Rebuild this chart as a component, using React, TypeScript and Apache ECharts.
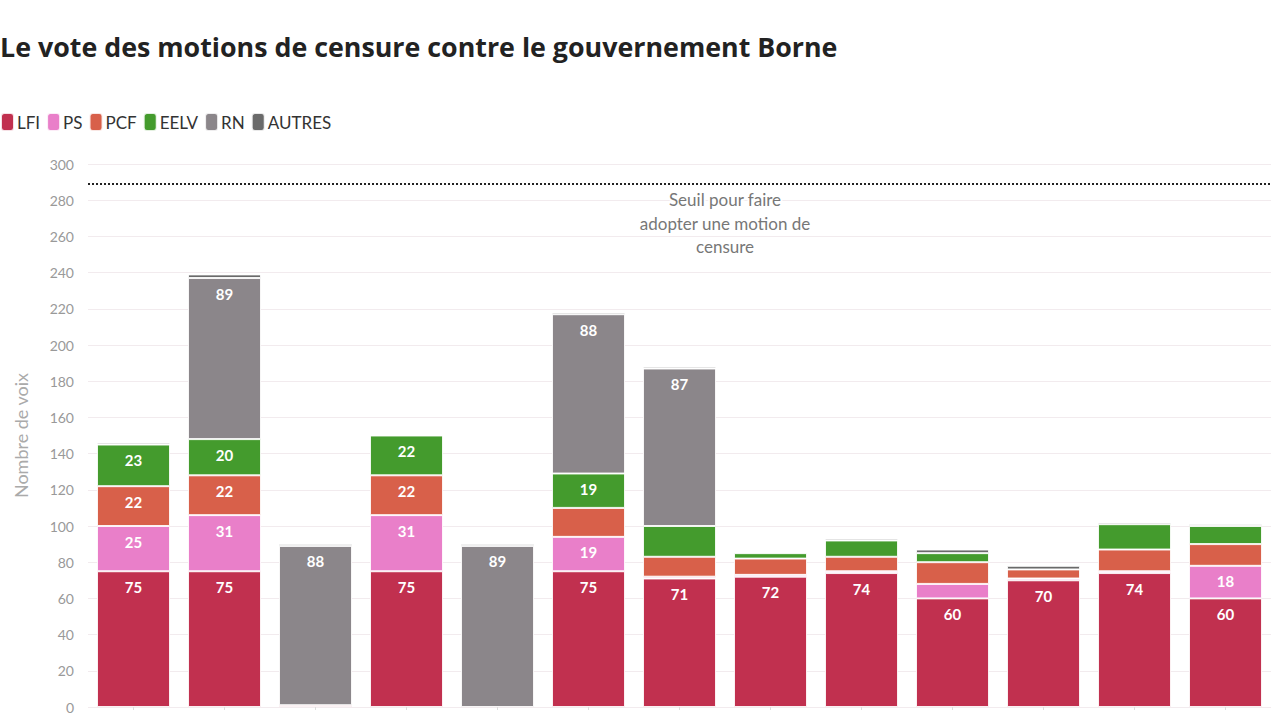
import React, { useEffect, useRef } from "react";
import * as echarts from "echarts";

const categories = ["1", "2", "3", "4", "5", "6", "7", "8", "9", "10", "11", "12", "13"];
const lfi = [75, 75, 1, 75, null, 75, 71, 72, 74, 60, 70, 74, 60];
const ps = [25, 31, null, 31, null, 19, 1, 1, 1, 8, 1, 1, 18];
const pcf = [22, 22, null, 22, null, 16, 11, 9, 8, 12, 5, 12, 12];
const eelv = [23, 20, null, 22, null, 19, 17, 3, 9, 5, null, 14, 10];
const rn = [null, 89, 88, null, 89, 88, 87, null, null, null, null, null, null];
const autres = [1, 2, 1, null, 1, 1, 1, null, 1, 2, 2, 1, 1];
const yTicks = [0, 300, 20];
const seuil = 289;

const seriesDefs = [
  { name: "LFI", data: lfi, color: "#c1304f" },
  { name: "PS", data: ps, color: "#e97fc9" },
  { name: "PCF", data: pcf, color: "#d8604a" },
  { name: "EELV", data: eelv, color: "#449b2d" },
  { name: "RN", data: rn, color: "#8b868a" },
  { name: "AUTRES", data: autres, color: "#6a6a6a" },
];

const FONT = "Lato, 'Noto Sans', sans-serif";

export default function App() {
  const ref = useRef<HTMLDivElement>(null);
  useEffect(() => {
    const chart = echarts.init(ref.current!, null, { renderer: "svg" });
    const series: any[] = seriesDefs.map((s, i) => ({
      name: s.name,
      type: "bar",
      stack: "total",
      barWidth: 73,
      data: s.data,
      itemStyle: { color: s.color, borderColor: "rgba(255,255,255,0.85)", borderWidth: 1 },
      label: {
        show: true,
        position: "insideTop",
        distance: 8,
        color: "#ffffff",
        fontFamily: FONT,
        fontWeight: "bold",
        fontSize: 15,
        formatter: (p: any) => (p.value != null && p.value >= 18 ? String(p.value) : ""),
      },
      emphasis: { disabled: true },
      markLine:
        i === 0
          ? {
              silent: true,
              symbol: "none",
              label: { show: false },
              lineStyle: { type: "dotted", color: "#222", width: 2 },
              data: [{ yAxis: seuil }],
            }
          : undefined,
    }));

    chart.setOption({
      animation: false,
      textStyle: { fontFamily: FONT },
      title: {
        text: "Le vote des motions de censure contre le gouvernement Borne",
        left: 0,
        top: 33,
        padding: 0,
        textStyle: { fontFamily: "'Open Sans', sans-serif", fontWeight: "bold", fontSize: 26.8, color: "#222" },
      },
      legend: {
        left: 0,
        top: 112,
        padding: 0,
        itemWidth: 13,
        itemHeight: 18,
        itemGap: 6,
        icon: "roundRect",
        textStyle: { fontFamily: FONT, fontSize: 17, color: "#333", padding: [0, 0, 0, -2] },
        data: seriesDefs.map((s) => s.name),
      },
      grid: { left: 88, right: 9, top: 164, bottom: 12 },
      xAxis: {
        type: "category",
        data: categories,
        axisLine: { show: false },
        axisTick: { show: true, length: 3, lineStyle: { color: "#ddd" }, alignWithLabel: true },
        axisLabel: { show: false },
      },
      yAxis: {
        type: "value",
        min: yTicks[0],
        max: yTicks[1],
        interval: yTicks[2],
        name: "Nombre de voix",
        nameLocation: "middle",
        nameGap: 58,
        nameTextStyle: { fontFamily: FONT, fontSize: 18, color: "#aaa" },
        axisLabel: { fontFamily: FONT, fontSize: 14, color: "#999", margin: 14 },
        splitLine: { lineStyle: { color: "#f2ebee", width: 1 } },
        axisLine: { show: false },
        axisTick: { show: false },
      },
      graphic: [
        {
          type: "text",
          x: 725,
          y: 188,
          z: 100,
          style: {
            text: "Seuil pour faire\nadopter une motion de\ncensure",
            fontFamily: FONT,
            fontSize: 17,
            lineHeight: 23.5,
            fill: "#777",
            stroke: "#ffffff",
            lineWidth: 4,
            align: "center",
          },
        },
      ],
      series,
    });
    return () => chart.dispose();
  }, []);
  return (
    <div
      ref={ref}
      style={{ position: "fixed", left: 0, top: 0, width: 1280, height: 719, background: "#fff" }}
    />
  );
}
